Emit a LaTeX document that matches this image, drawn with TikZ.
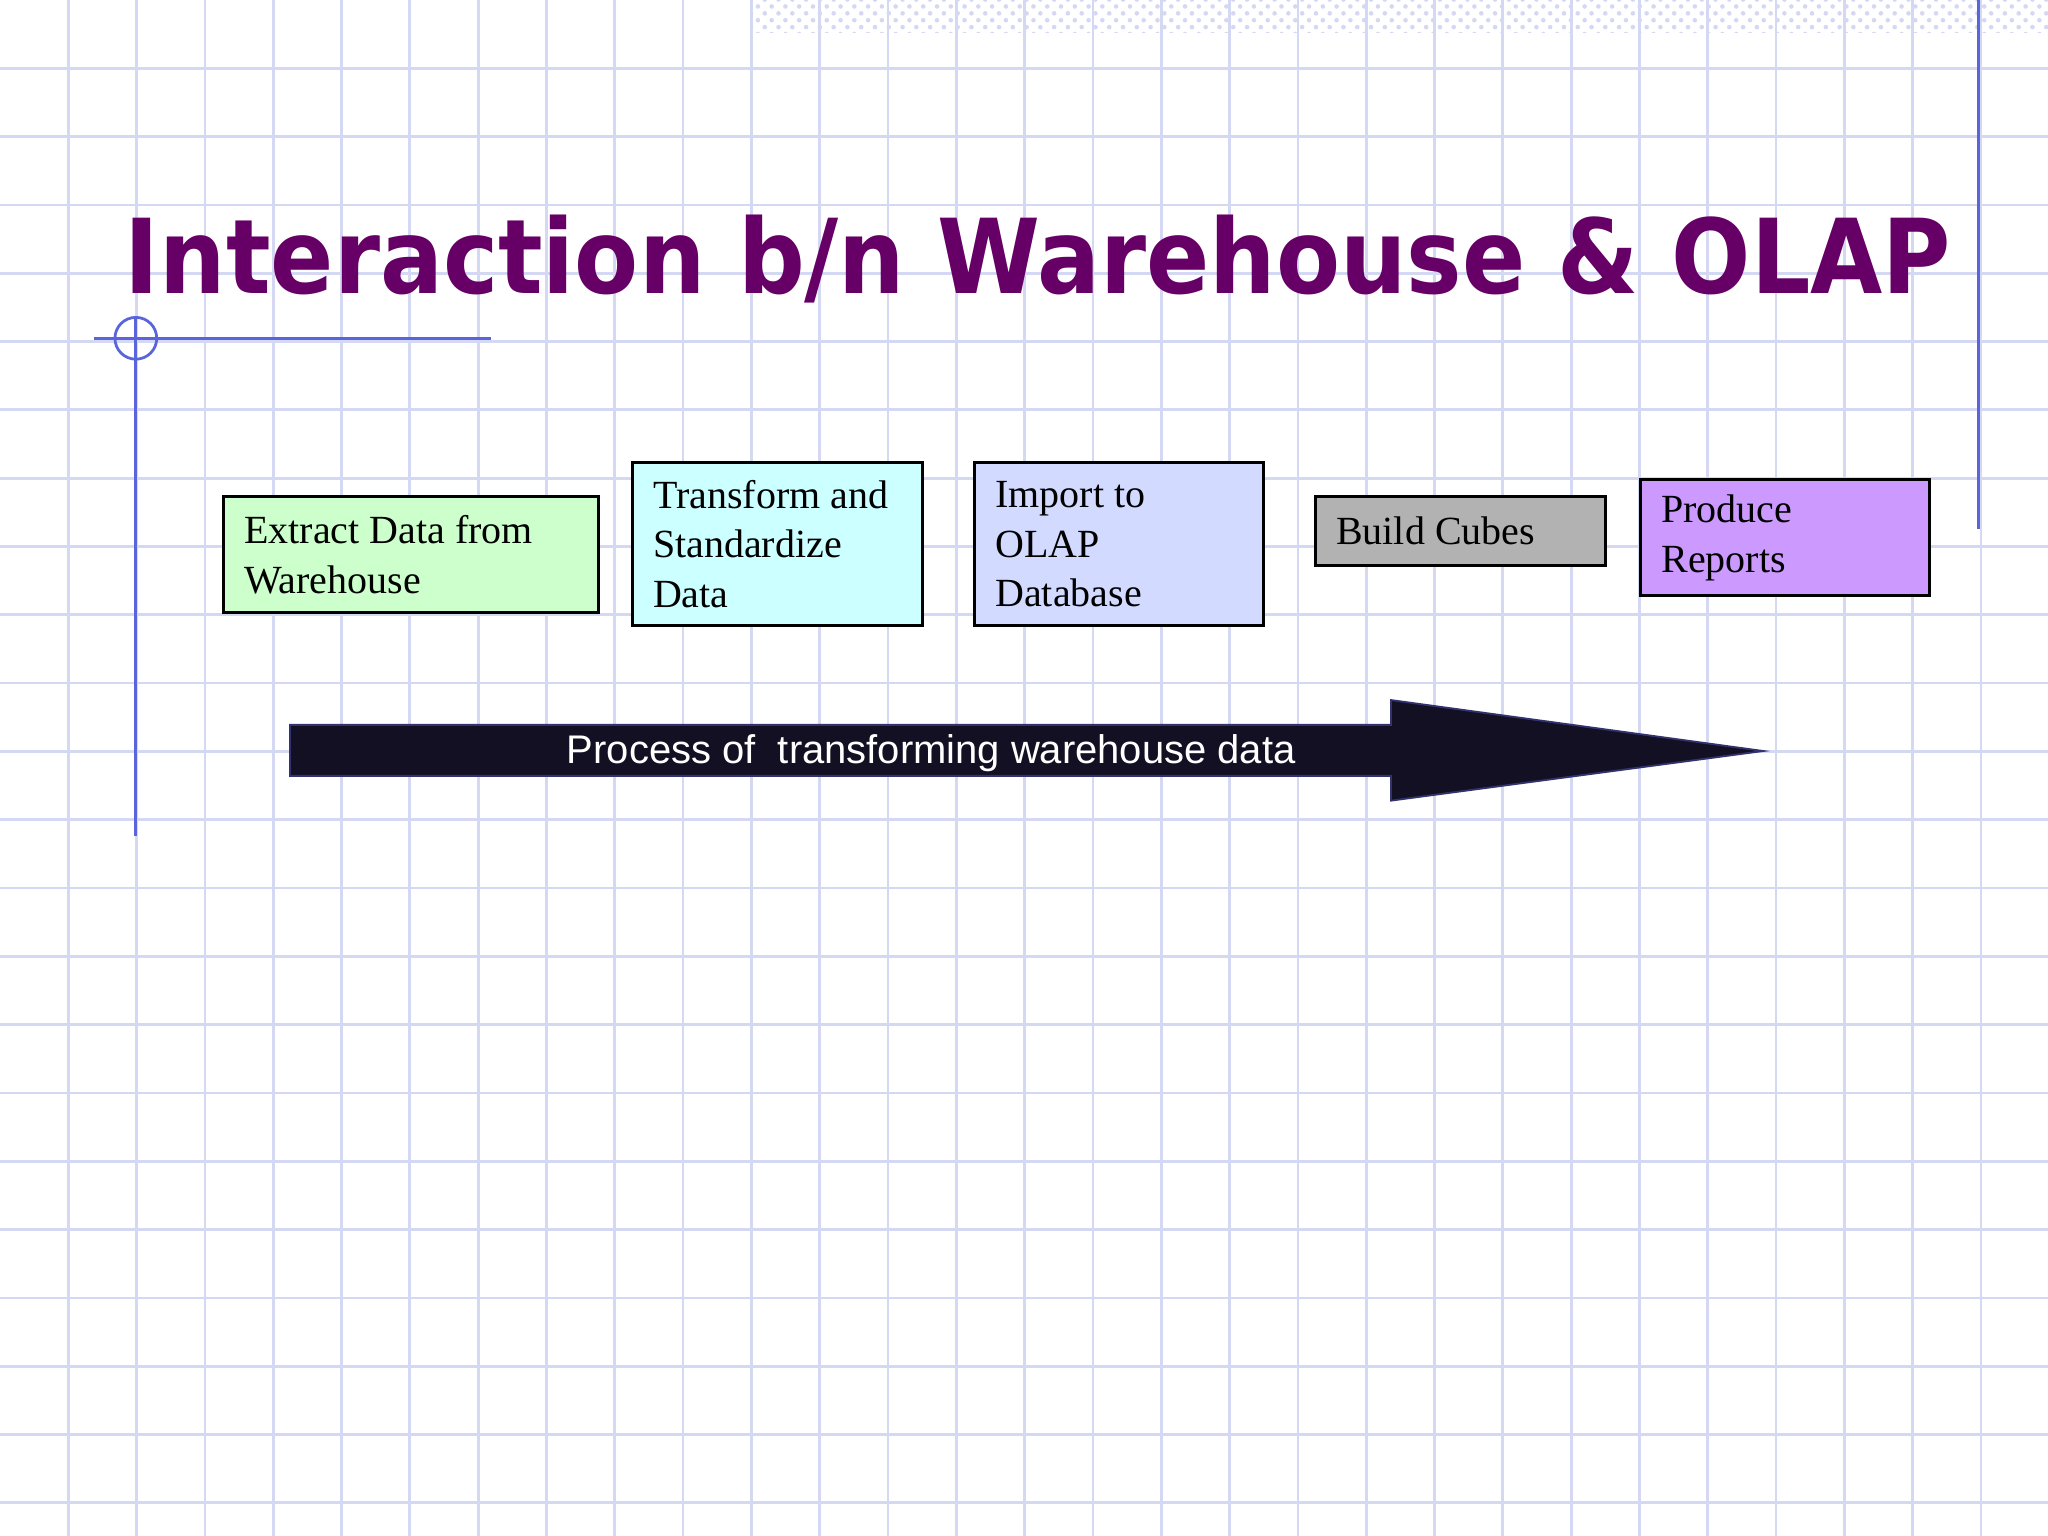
\documentclass[tikz,border=0pt]{standalone}
\usepackage{fontspec}
\usepackage{graphicx}
\setmainfont{Liberation Serif}
\newfontfamily\titlefont{DejaVu Sans}
\newfontfamily\arialfont{Liberation Sans}
\usetikzlibrary{patterns}
\definecolor{gridc}{RGB}{212,216,242}
\definecolor{linec}{RGB}{90,100,220}
\definecolor{titlec}{RGB}{102,0,102}
\tikzset{
 stepbox/.style={draw=black,line width=0.6pt,minimum height=#1,inner xsep=0.16cm,align=flush left,anchor=north west,font=\fontsize{8.7}{10.8}\selectfont},
}
\begin{document}
\begin{tikzpicture}[x=0.01cm,y=-0.01cm]
\useasboundingbox (0,0) rectangle (1568,1176);
\fill[white] (0,0) rectangle (1568,1176);
\foreach \i in {1,...,30} \draw[gridc,line width=0.6pt] ({\i*52.3},0) -- ({\i*52.3},1176);
\foreach \i in {1,...,22} \draw[gridc,line width=0.6pt] (0,{\i*52.3}) -- (1568,{\i*52.3});
\fill[pattern=crosshatch dots,pattern color=gridc] (575,0) rectangle (1568,25);
\draw[linec,line width=0.6pt] (1515,0) -- (1515,405);
\draw[linec,line width=0.6pt] (72,259) -- (376,259);
\draw[linec,line width=0.6pt] (104,243) -- (104,640);
\draw[linec,line width=0.6pt] (104,259) circle (16);
\node[anchor=base west,inner sep=0,text=titlec,font=\titlefont\bfseries\fontsize{22.5}{26}\selectfont] (title) at (95,225) {\scalebox{0.903}[1]{Interaction b/n Warehouse \& OLAP}};
\node[stepbox=0.89cm,fill={rgb,255:red,204;green,255;blue,204},text width=2.55cm] (b1) at (170,379) {Extract Data from\\Warehouse};
\node[stepbox=1.25cm,fill={rgb,255:red,204;green,255;blue,255},text width=1.90cm] (b2) at (483,353) {Transform and\\Standardize\\Data};
\node[stepbox=1.25cm,fill={rgb,255:red,210;green,218;blue,255},text width=1.89cm] (b3) at (745,353) {Import to\\OLAP\\Database};
\node[stepbox=0.53cm,fill={rgb,255:red,178;green,178;blue,178},text width=1.90cm] (b4) at (1006,379) {Build Cubes};
\node[stepbox=0.89cm,fill={rgb,255:red,204;green,153;blue,255},text width=1.89cm] (b5) at (1255,366) {Produce\\Reports};
\fill[fill={rgb,255:red,18;green,16;blue,34},draw={rgb,255:red,50;green,50;blue,110}] (222,555) -- (1065,555) -- (1065,536) -- (1350,575) -- (1065,613) -- (1065,594) -- (222,594) -- cycle;
\node[text=white,font=\arialfont\fontsize{8.7}{11}\selectfont] (lbl) at (713,577) {Process of\ \ transforming warehouse data};
\end{tikzpicture}
\end{document}
